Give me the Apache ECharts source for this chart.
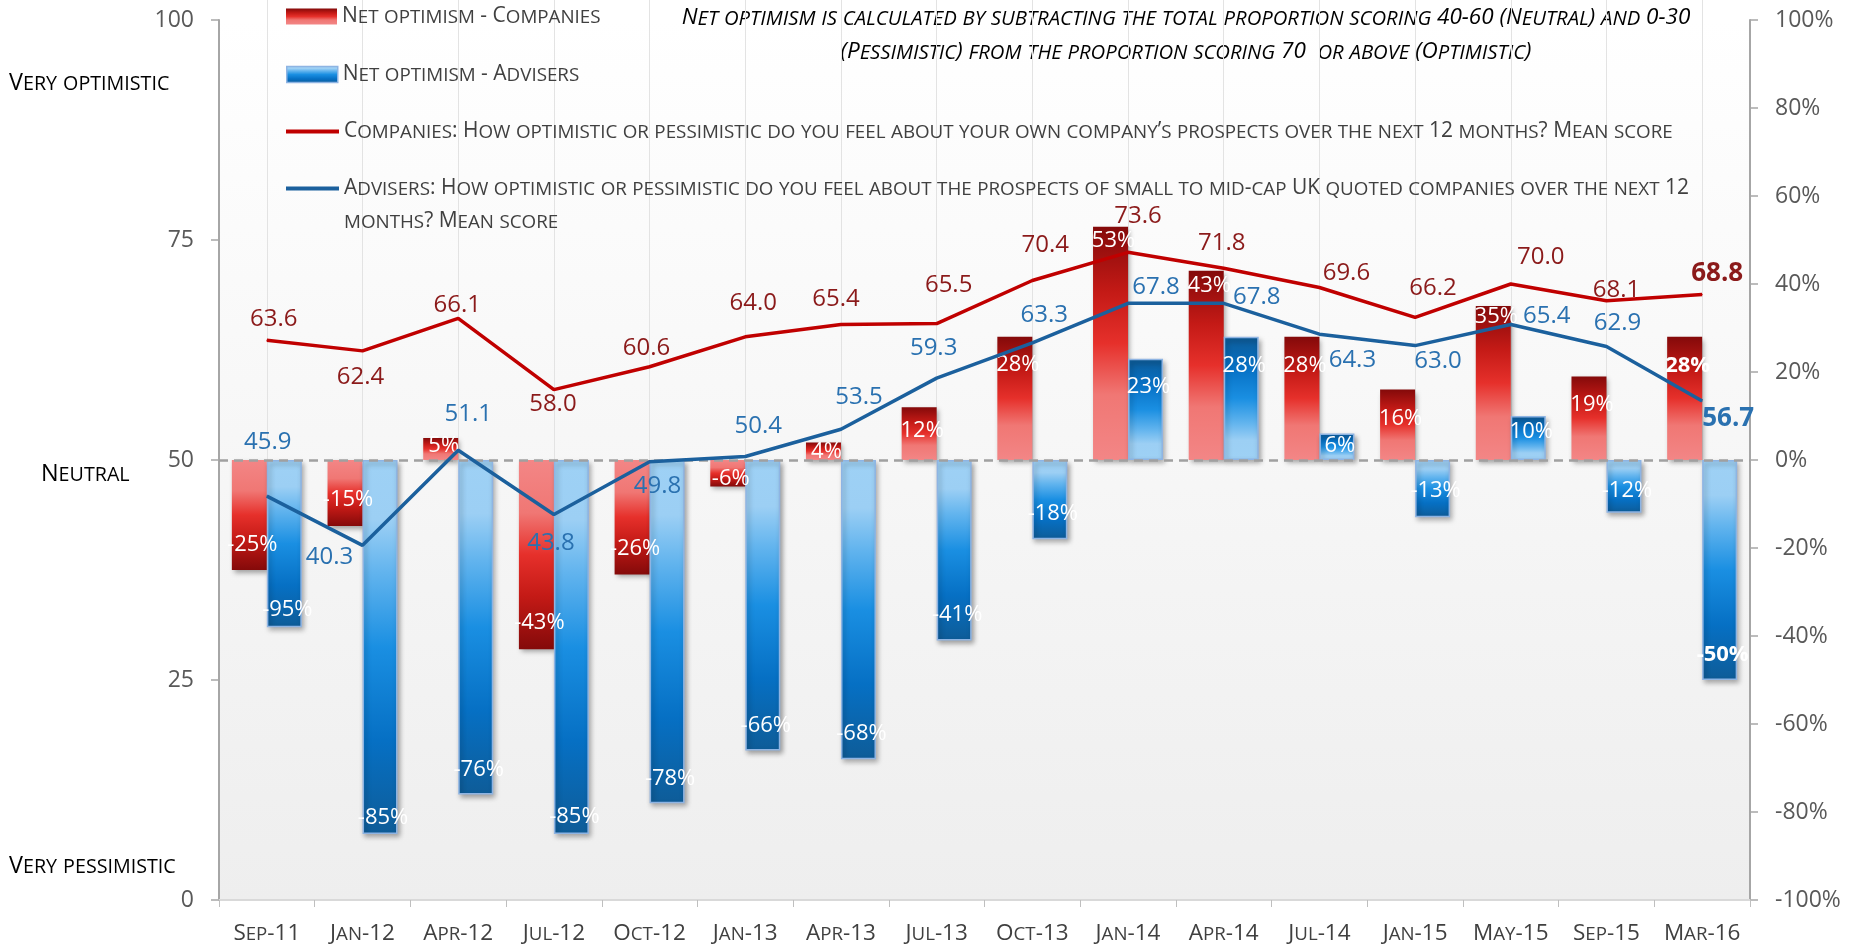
<!DOCTYPE html>
<html><head><meta charset="utf-8">
<script src="https://cdn.jsdelivr.net/npm/echarts@6/dist/echarts.min.js"></script>
<style>html,body{margin:0;padding:0;background:#fff}#c{width:1857px;height:949px}</style>
</head><body><div id="c"></div>
<script>
// ---------------- DATA ----------------
const categories = ['Sep-11','Jan-12','Apr-12','Jul-12','Oct-12','Jan-13','Apr-13','Jul-13','Oct-13','Jan-14','Apr-14','Jul-14','Jan-15','May-15','Sep-15','Mar-16'];
const companiesNet = [-25,-15,5,-43,-26,-6,4,12,28,53,43,28,16,35,19,28];
const advisersNet = [-38,-85,-76,-85,-78,-66,-68,-41,-18,23,28,6,-13,10,-12,-50];
const companiesNetLabels = ['-25%','-15%','5%','-43%','-26%','-6%','4%','12%','28%','53%','43%','28%','16%','35%','19%','28%'];
const advisersNetLabels = ['-95%','-85%','-76%','-85%','-78%','-66%','-68%','-41%','-18%','23%','28%','6%','-13%','10%','-12%','-50%'];
const companiesMean = [63.6,62.4,66.1,58.0,60.6,64.0,65.4,65.5,70.4,73.6,71.8,69.6,66.2,70.0,68.1,68.8];
const advisersMean = [45.9,40.3,51.1,43.8,49.8,50.4,53.5,59.3,63.3,67.8,67.8,64.3,63.0,65.4,62.9,56.7];
const leftTicks = [0,25,50,75,100];
const rightTicks = [-100,-80,-60,-40,-20,0,20,40,60,80,100];

const NAME_CB = 'Net optimism - Companies';
const NAME_AB = 'Net optimism - Advisers';
const NAME_CL = 'Companies: How optimistic or pessimistic do you feel about your own company\u2019s prospects over the next 12 months? Mean score';
const NAME_AL = 'Advisers: How optimistic or pessimistic do you feel about the prospects of small to mid-cap UK quoted companies over the next 12\nmonths? Mean score';
const NOTE_1 = 'Net optimism is calculated by subtracting the total proportion scoring 40-60 (Neutral) and 0-30';
const NOTE_2 = '(Pessimistic) from the proportion scoring 70  or above (Optimistic)';
const SIDE_TOP = 'Very optimistic';
const SIDE_MID = 'Neutral';
const SIDE_BOT = 'Very pessimistic';

// ---------------- STYLE ----------------
const FONT = '"Open Sans", sans-serif';
const redLabelOffsets = [[7,-21],[-2,26],[-1,-13],[-1,15],[-3,-19],[8,-34],[-5,-25],[12,-38],[13,-35],[10,-36],[-2,-25],[27,-14],[18,-29],[30,-27],[10,-11],[15,-21]];
const blueLabelOffsets = [[1,-54],[-33,12],[10,-36],[-3,29],[8,24],[13,-30],[18,-32],[-3,-30],[12,-28],[28,-16],[33,-6],[33,26],[23,16],[36,-8],[11,-23],[26,18]];
const redBarLabelGap = [26,27,9,27,27,9,10,25,29,15,16,30,30,12,29,30];
const blueBarLabelGap = [18,17,26,18,25,26,26,27,26,29,30,13,27,17,23,26];

// small caps emulation with rich text
function sc(str) {
  let out = '', cur = '', curType = null;
  const flush = () => { if (cur) out += '{' + curType + '|' + cur + '}'; cur = ''; };
  for (const ch of str) {
    if (ch === '\n') { flush(); out += '\n'; curType = null; continue; }
    const t = (ch >= 'a' && ch <= 'z') ? 's' : 'b';
    if (t !== curType) { flush(); curType = t; }
    cur += (t === 's') ? ch.toUpperCase() : ch;
  }
  flush();
  return out;
}
function scRich(big, small, color, extra) {
  const base = Object.assign({fontFamily: FONT, color: color}, extra || {});
  return {
    b: Object.assign({}, base, {fontSize: big}),
    s: Object.assign({}, base, {fontSize: small, padding: [2,0,0,0]})
  };
}

function grad(stops, reverse) {
  const s = stops.map(([o,c]) => ({offset: reverse ? 1 - o : o, color: c}));
  s.sort((a,b)=>a.offset-b.offset);
  return new echarts.graphic.LinearGradient(0,0,0,1,s);
}
const redStops = [[0,'#840A0A'],[0.28,'#C41A16'],[0.5,'#E6302B'],[0.72,'#F07774'],[1,'#F38686']];
const blueStops = [[0,'#0E5C98'],[0.25,'#0670C4'],[0.5,'#1A8FE2'],[0.7,'#62B4EE'],[0.84,'#9CCFF4'],[1,'#9ED1F5']];

function barData(values, labels, stops, gaps, extra) {
  return values.map((v,i) => ({
    value: v,
    itemStyle: Object.assign({color: grad(stops, v < 0)}, extra),
    label: {
      formatter: labels[i],
      position: v >= 0 ? 'insideTop' : 'insideBottom',
      distance: gaps[i] - 12,
      fontWeight: i === values.length - 1 ? 'bold' : 'normal'
    }
  }));
}
function lineData(values, offsets) {
  return values.map((v,i) => ({
    value: v,
    label: {offset: offsets[i], fontWeight: i === values.length - 1 ? 'bold' : 'normal', fontSize: i === values.length - 1 ? 26 : 24}
  }));
}

const shadow = {shadowColor:'rgba(0,0,0,0.35)', shadowBlur:5, shadowOffsetX:2, shadowOffsetY:3};
const legendRich = scRich(21, 18.8, '#404040', {lineHeight: 33});
const legendText = {fontFamily: FONT, fontSize: 21, color: '#404040', lineHeight: 33, rich: legendRich};
const legendFmt = (n) => sc(n);

const chart = echarts.init(document.getElementById('c'), null, {renderer: 'canvas'});
chart.setOption({
  animation: false,
  backgroundColor: '#ffffff',
  textStyle: {fontFamily: FONT},
  grid: {left: 219, right: 107, top: 20, bottom: 49, show: true, borderWidth: 0,
    backgroundColor: new echarts.graphic.LinearGradient(0,0,0,1,[{offset:0,color:'#FFFFFF'},{offset:1,color:'#EEEEEE'}])},
  legend: [
    {data: [{name: NAME_CB, icon: 'rect'}], left: 286, top: 0, padding: 0, itemWidth: 51, itemHeight: 16, formatter: legendFmt, textStyle: legendText, selectedMode: false},
    {data: [{name: NAME_AB, icon: 'rect', itemStyle: {color: grad(blueStops, true), borderColor: '#8EB4E3', borderWidth: 1.5}}], left: 286, top: 58, padding: 0, itemWidth: 51, itemHeight: 16, formatter: legendFmt, textStyle: legendText, selectedMode: false},
    {data: [{name: NAME_CL, icon: 'rect'}], left: 286, top: 115, padding: 0, itemWidth: 53, itemHeight: 4, formatter: legendFmt, textStyle: legendText, selectedMode: false},
    {data: [{name: NAME_AL, icon: 'rect', textStyle: {padding: [33,0,0,0]}}], left: 286, top: 139, padding: 0, itemWidth: 53, itemHeight: 4, formatter: legendFmt, textStyle: legendText, selectedMode: false}
  ],
  xAxis: [
    {type: 'category', data: categories, position: 'bottom',
      axisLine: {lineStyle: {color: '#D9D9D9', width: 2}},
      axisTick: {show: true, length: 7, lineStyle: {color: '#BFBFBF'}},
      axisLabel: {margin: 22, fontSize: 22, color: '#404040', fontFamily: FONT, interval: 0,
        formatter: (v) => sc(v), rich: scRich(22.5, 18.7, '#404040')},
      splitLine: {show: false}},
    {type: 'category', data: categories, position: 'bottom',
      axisLine: {show: false}, axisLabel: {show: false},
      axisTick: {show: true, alignWithLabel: true, inside: true, length: 880, lineStyle: {color: '#E3E3E3', width: 1}},
      splitLine: {show: false}}
  ],
  yAxis: [
    {type: 'value', position: 'left', min: leftTicks[0], max: leftTicks[leftTicks.length-1], interval: leftTicks[1]-leftTicks[0],
      axisLine: {show: true, lineStyle: {color: '#A6A6A6', width: 2}},
      axisTick: {show: true, length: 8, lineStyle: {color: '#A6A6A6', width: 1.5}},
      axisLabel: {margin: 25, fontSize: 23, color: '#595959', fontFamily: FONT},
      splitLine: {show: false}},
    {type: 'value', position: 'right', min: rightTicks[0], max: rightTicks[rightTicks.length-1], interval: rightTicks[1]-rightTicks[0],
      axisLine: {show: true, lineStyle: {color: '#A6A6A6', width: 2}},
      axisTick: {show: true, length: 8, lineStyle: {color: '#A6A6A6', width: 1.5}},
      axisLabel: {margin: 25, fontSize: 23, color: '#595959', fontFamily: FONT, formatter: '{value}%'},
      splitLine: {show: false}}
  ],
  series: [
    {name: NAME_CB, type: 'bar', xAxisIndex: 0, yAxisIndex: 1, barWidth: 35, barGap: '0%', z: 2,
      itemStyle: Object.assign({color: grad(redStops, false)}, shadow),
      label: {show: true, color: '#ffffff', fontSize: 22, fontFamily: FONT, offset: [3,0]},
      data: barData(companiesNet, companiesNetLabels, redStops, redBarLabelGap, shadow)},
    {name: NAME_AB, type: 'bar', xAxisIndex: 0, yAxisIndex: 1, barWidth: 35, barGap: '0%', z: 2,
      itemStyle: Object.assign({color: grad(blueStops, false), borderColor: '#8EB4E3', borderWidth: 1.5}, shadow),
      label: {show: true, color: '#ffffff', fontSize: 22, fontFamily: FONT, offset: [3,0]},
      data: barData(advisersNet, advisersNetLabels, blueStops, blueBarLabelGap, Object.assign({borderColor: '#8EB4E3', borderWidth: 1.5}, shadow)),
      markLine: {silent: true, symbol: 'none', label: {show: false}, z: 3,
        lineStyle: {color: '#A0A0A0', type: [9,6], width: 2.5},
        data: [{yAxis: 0}]}},
    {name: NAME_CL, type: 'line', xAxisIndex: 0, yAxisIndex: 0, z: 4,
      symbol: 'circle', symbolSize: 1, showSymbol: true,
      itemStyle: {color: '#C00000'}, lineStyle: {color: '#C00000', width: 3.5},
      label: {show: true, position: 'inside', color: '#8B1A1A', fontSize: 24, fontFamily: FONT, formatter: (p) => p.value.toFixed(1)},
      data: lineData(companiesMean, redLabelOffsets)},
    {name: NAME_AL, type: 'line', xAxisIndex: 0, yAxisIndex: 0, z: 4,
      symbol: 'circle', symbolSize: 1, showSymbol: true,
      itemStyle: {color: '#1B609D'}, lineStyle: {color: '#1B609D', width: 3.5},
      label: {show: true, position: 'inside', color: '#2A71B0', fontSize: 24, fontFamily: FONT, formatter: (p) => p.value.toFixed(1)},
      data: lineData(advisersMean, blueLabelOffsets)}
  ],
  graphic: [
    {type: 'text', x: 9, y: 83, style: {text: sc(SIDE_TOP), rich: scRich(23.4, 19.7, '#404040'), verticalAlign: 'middle'}},
    {type: 'text', x: 41, y: 474, style: {text: sc(SIDE_MID), rich: scRich(23.4, 19.7, '#404040'), verticalAlign: 'middle'}},
    {type: 'text', x: 9, y: 866, style: {text: sc(SIDE_BOT), rich: scRich(23.4, 19.7, '#404040'), verticalAlign: 'middle'}},
    {type: 'text', x: 1186, y: 18, style: {text: sc(NOTE_1), rich: scRich(22.5, 20.3, '#595959', {fontStyle: 'italic'}), align: 'center', verticalAlign: 'middle'}},
    {type: 'text', x: 1186, y: 52, style: {text: sc(NOTE_2), rich: scRich(22.5, 20.3, '#595959', {fontStyle: 'italic'}), align: 'center', verticalAlign: 'middle'}}
  ]
});
</script></body></html>
